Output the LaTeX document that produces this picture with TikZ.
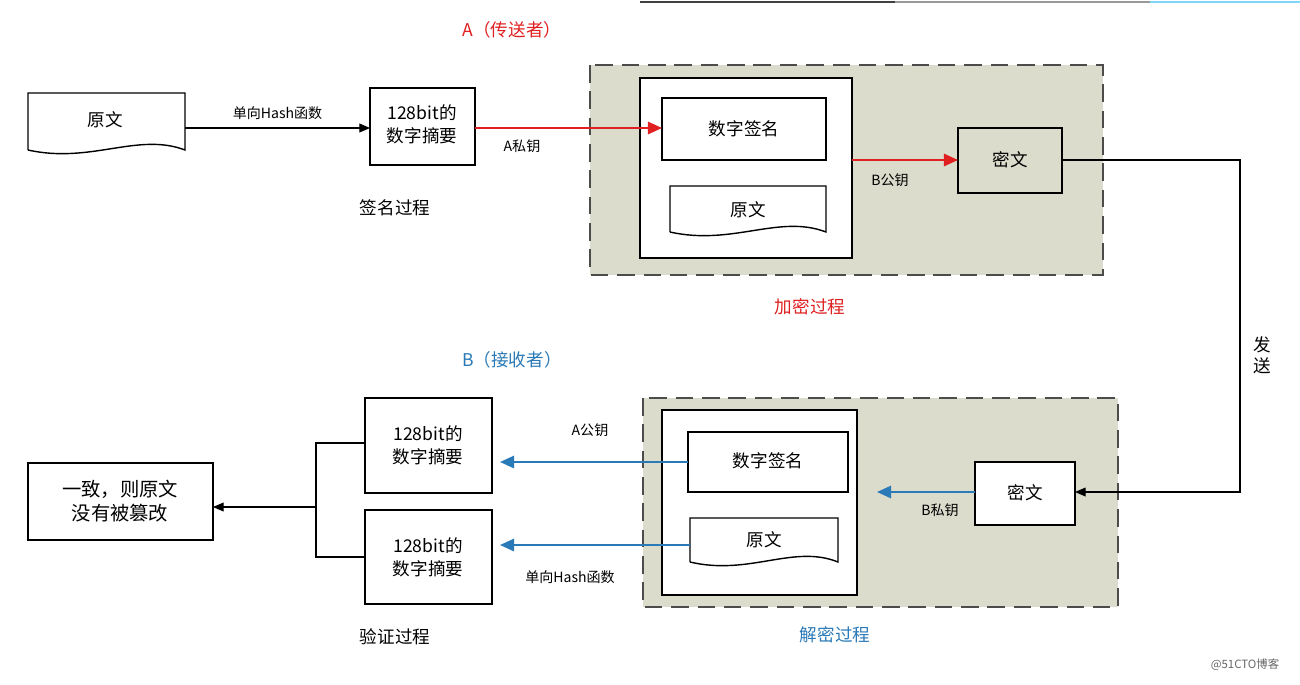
\documentclass[tikz,border=0pt]{standalone}
\usepackage{fontspec}
\setmainfont{Noto Sans CJK SC}
\usetikzlibrary{arrows.meta}
\definecolor{panel}{HTML}{DCDCCC}
\definecolor{rd}{HTML}{E02020}
\definecolor{bl}{HTML}{2A7AB8}
\tikzset{x=0.02cm,y=-0.02cm,
 box/.style={draw=none,fill=none,inner sep=0pt,align=center,font=\fontsize{10}{13}\selectfont},
 panelbox/.style={draw=black!70,fill=panel,dash pattern=on 10pt off 5pt,line width=1.6pt},
 lab/.style={font=\fontsize{8}{10}\selectfont},
 captxt/.style={font=\fontsize{10}{12}\selectfont},
 arr/.style={-{Triangle[length=6pt,width=5pt]},line width=0.6pt},
 rarr/.style={draw=rd,line width=1.2pt,-{Triangle[length=8pt,width=7pt]},color=rd},
 barr/.style={draw=bl,line width=1.2pt,-{Triangle[length=8pt,width=7pt]},color=bl}}
\newcommand{\docshape}[5]{%
 \draw[line width=0.8pt,fill=white] (#1,#4) -- (#1,#2) -- (#3,#2) -- (#3,#4)
  .. controls ({#3-(#3-#1)*0.3},{#4-18}) and ({#1+(#3-#1)*0.4},{#4+14}) .. (#1,#4);
 \coordinate (#5) at ({(#1+#3)/2},{(#2+#4)/2});}
\begin{document}
\begin{tikzpicture}
\useasboundingbox[fill=white] (0,0) rectangle (1300,684);
\draw[line width=1pt,black!75] (640,2) -- (895,2);
\draw[line width=1pt,black!40] (895,2) -- (1150,2);
\draw[line width=1pt,cyan!50] (1150,2) -- (1300,2);
\node[captxt,rd] (ta) at (512,30) {A（传送者）};
% top
\docshape{28}{93}{185}{150}{d1}
\node[box] (d1t) at (105,120) {原文};
\draw[line width=0.8pt] (370,88) rectangle (475,165);
\node[box] (h1t) at (422,124) {128bit的\\数字摘要};
\coordinate (h1w) at (370,128); \coordinate (h1e) at (475,128);
\coordinate (d1e) at (185,128);
\draw[arr] (d1e) -- (h1w) node[lab,midway,above=1pt] {单向Hash函数};
\node[captxt] (c1) at (395,208) {签名过程};
\draw[panelbox] (590,65) rectangle (1103,275);
\draw[line width=0.8pt,fill=white] (640,78) rectangle (852,258);
\draw[line width=0.8pt] (662,98) rectangle (826,160);
\node[box] (s1t) at (744,129) {数字签名};
\docshape{670}{186}{826}{232}{d2}
\node[box] (d2t) at (748,210) {原文};
\coordinate (s1w) at (662,128);
\draw[rarr] (h1e) -- (s1w);
\node[lab] (l1) at (522,146) {A私钥};
\draw[line width=0.8pt] (958,128) rectangle (1062,193);
\node[box] (m1) at (1010,160) {密文};
\coordinate (ib1) at (852,160); \coordinate (m1w) at (958,160);
\draw[rarr] (ib1) -- (m1w);
\node[lab] (l2) at (890,180) {B公钥};
\node[captxt,rd] (c2) at (810,307) {加密过程};
% bottom
\node[captxt,bl] (tb) at (512,360) {B（接收者）};
\draw[panelbox] (643,398) rectangle (1118,607);
\draw[line width=0.8pt,fill=white] (662,410) rectangle (857,595);
\draw[line width=0.8pt] (688,432) rectangle (848,492);
\node[box] (s2) at (768,461) {数字签名};
\docshape{690}{518}{838}{562}{d3}
\node[box] (d3t) at (764,540) {原文};
\draw[line width=0.8pt,fill=white] (975,462) rectangle (1075,525);
\node[box] (m2) at (1025,493) {密文};
% send
\coordinate (m1e) at (1062,160); \coordinate (m2e) at (1075,492);
\draw[arr] (m1e) -- (1240,160) -- (1240,492) -- (m2e);
\node[captxt,align=center,fill=white,inner sep=1pt] (send) at (1262,355) {发\\送};
\coordinate (m2w) at (975,492); \coordinate (ib2) at (877,492);
\draw[barr] (m2w) -- (ib2);
\node[lab] (l3) at (940,510) {B私钥};
\draw[line width=0.8pt] (365,398) rectangle (492,493);
\node[box] (h2) at (428,445) {128bit的\\数字摘要};
\draw[line width=0.8pt] (365,510) rectangle (492,604);
\node[box] (h3) at (428,557) {128bit的\\数字摘要};
\coordinate (s2w) at (688,462); \coordinate (h2e) at (500,462);
\coordinate (d3w) at (690,545); \coordinate (h3e) at (500,545);
\draw[barr] (s2w) -- (h2e);
\draw[barr] (d3w) -- (h3e);
\node[lab] (l4) at (590,430) {A公钥};
\node[lab] (l5) at (570,577) {单向Hash函数};
\draw[line width=0.6pt] (365,443) -- (316,443) -- (316,557) -- (365,557);
\draw[line width=0.8pt] (28,463) rectangle (213,540);
\node[box,font=\fontsize{11}{14}\selectfont] (r) at (120,501) {一致，则原文\\没有被篡改};
\coordinate (br) at (316,507); \coordinate (re) at (213,507);
\draw[arr] (br) -- (re);
\node[captxt] (c3) at (395,637) {验证过程};
\node[captxt,bl] (c4) at (835,635) {解密过程};
\node[font=\fontsize{6.5}{8}\selectfont,black!60] (wm) at (1245,665) {@51CTO博客};
\end{tikzpicture}
\end{document}
